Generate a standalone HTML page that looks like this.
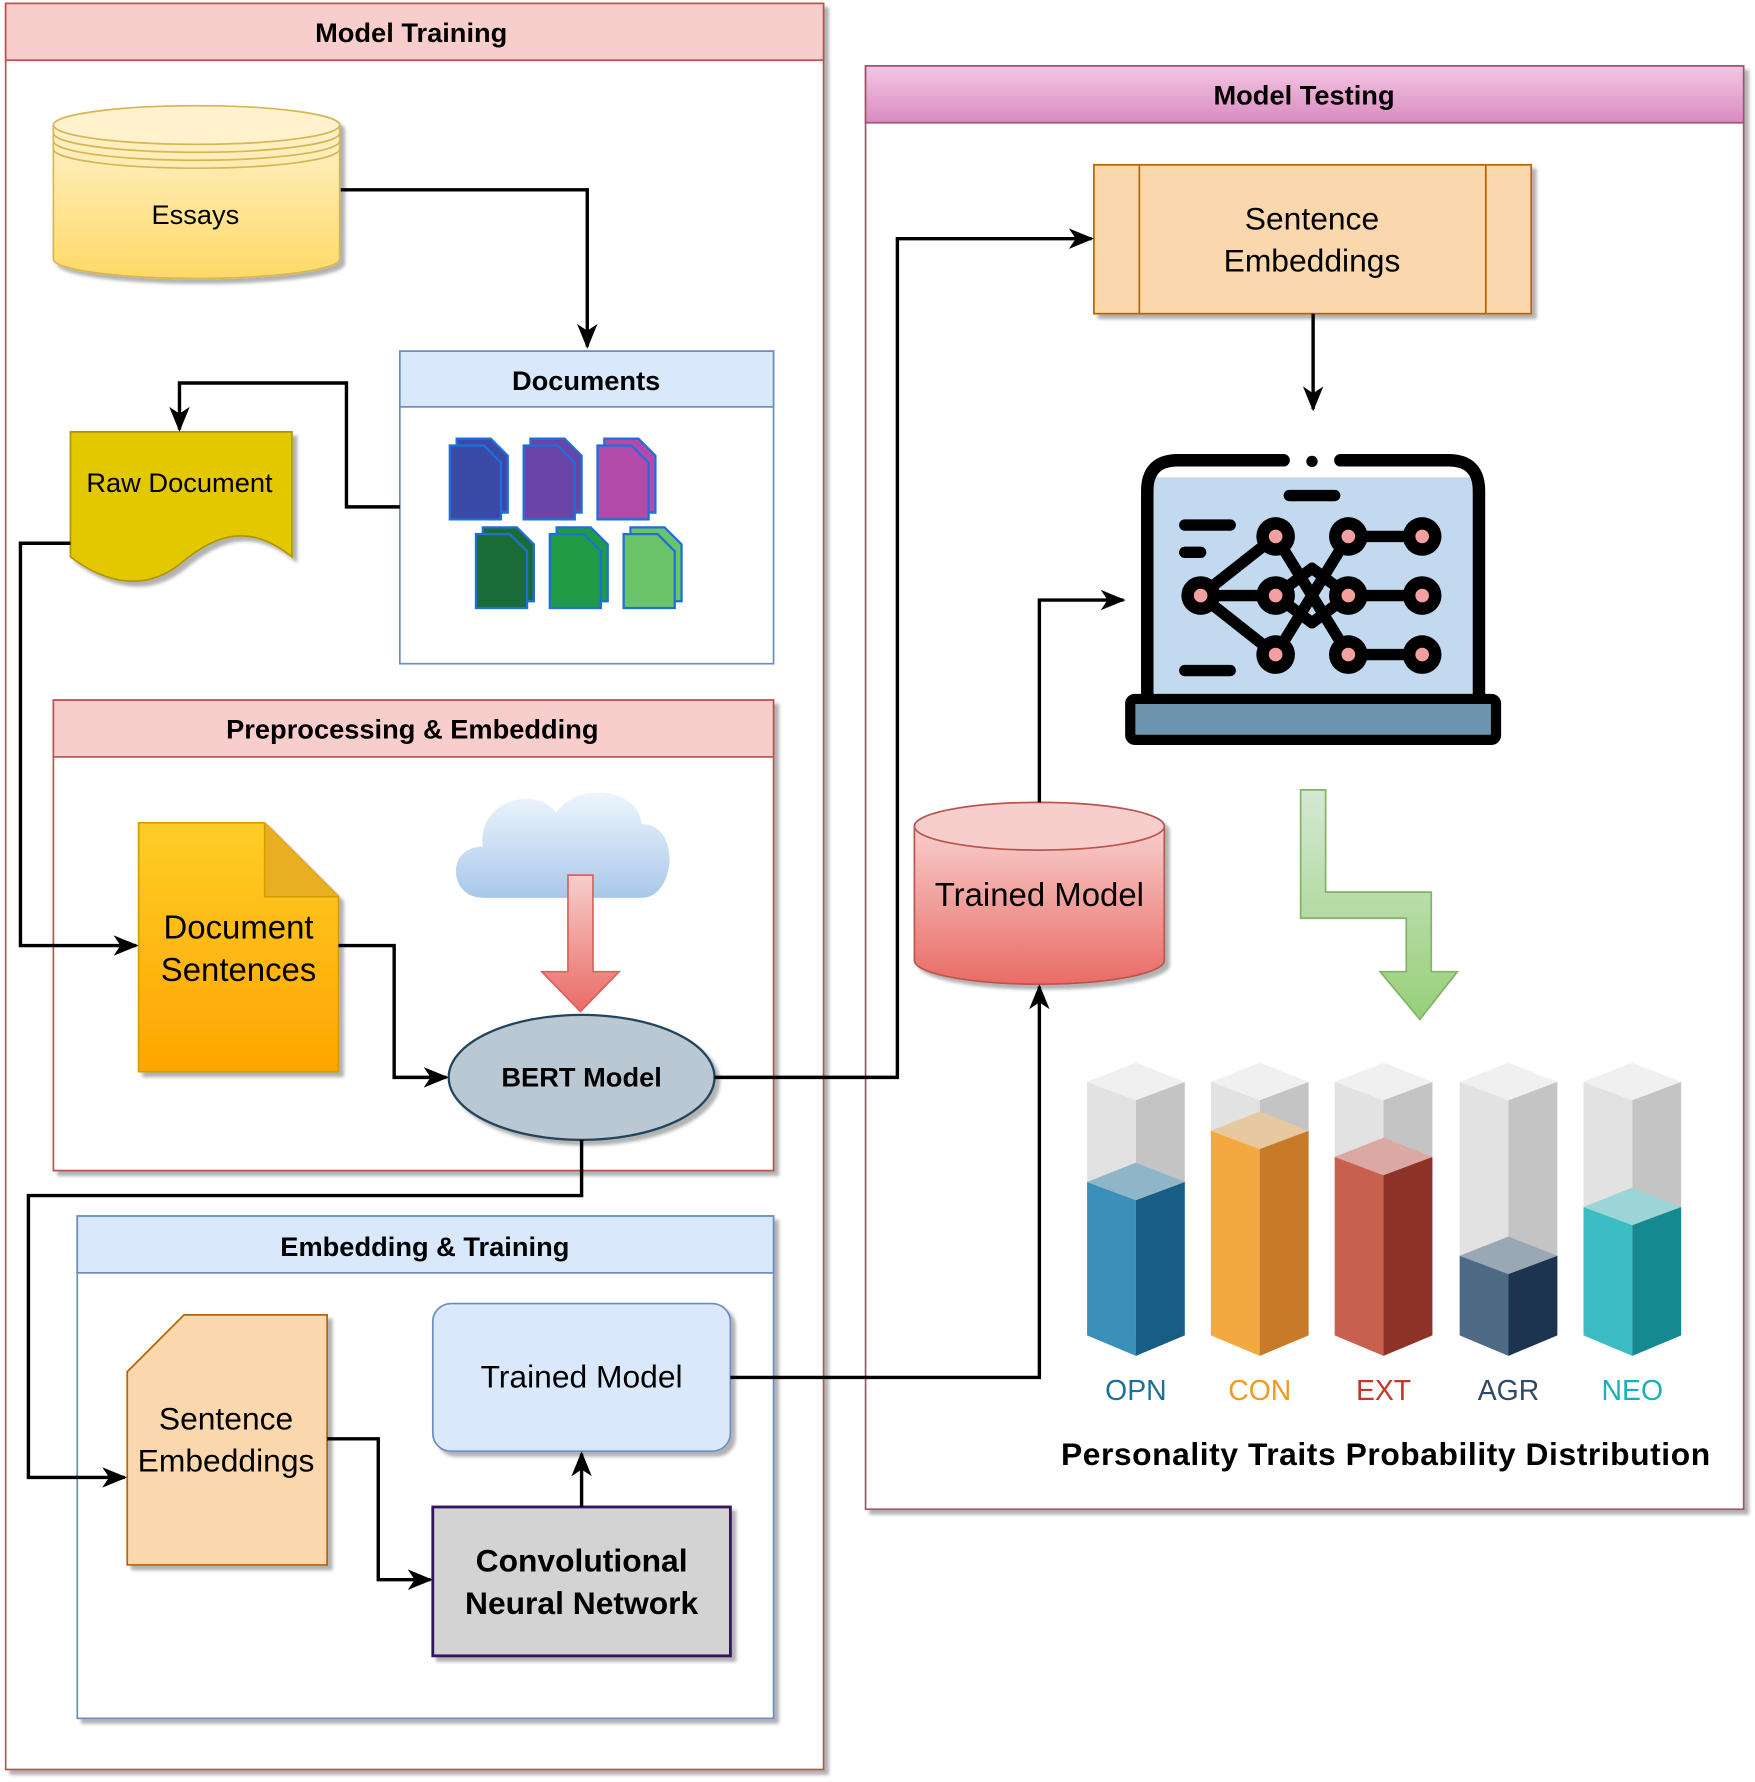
<!DOCTYPE html>
<html><head><meta charset="utf-8"><style>html,body{margin:0;padding:0;background:#fff}svg{display:block}</style></head>
<body>
<svg width="1755" height="1782" viewBox="0 0 1545 1568" preserveAspectRatio="none" xmlns="http://www.w3.org/2000/svg" font-family="Liberation Sans, sans-serif">
<defs>
<marker id="ar" markerWidth="22" markerHeight="18" refX="20" refY="9" orient="auto" markerUnits="userSpaceOnUse" viewBox="0 0 22 18"><path d="M0,0 L22,9 L0,18 L6,9 Z" fill="#000"/></marker>
<filter id="sh" x="-10%" y="-10%" width="130%" height="130%"><feDropShadow dx="4" dy="4" stdDeviation="1.5" flood-color="#000" flood-opacity="0.3"/></filter>
<linearGradient id="gy" x1="0" y1="0" x2="0" y2="1"><stop offset="0" stop-color="#fff2cc"/><stop offset="1" stop-color="#ffd966"/></linearGradient>
<linearGradient id="go" x1="0" y1="0" x2="0" y2="1"><stop offset="0" stop-color="#ffcd28"/><stop offset="1" stop-color="#ffa500"/></linearGradient>
<linearGradient id="gr" x1="0" y1="0" x2="0" y2="1"><stop offset="0" stop-color="#f8cecc"/><stop offset="1" stop-color="#ea6b66"/></linearGradient>
<linearGradient id="gm" x1="0" y1="0" x2="0" y2="1"><stop offset="0" stop-color="#f5c6e4"/><stop offset="1" stop-color="#d98bc0"/></linearGradient>
<linearGradient id="gc" x1="0" y1="0" x2="0" y2="1"><stop offset="0" stop-color="#eef5fd"/><stop offset="1" stop-color="#a9c8ea"/></linearGradient>
<linearGradient id="gra" x1="0" y1="0" x2="0" y2="1"><stop offset="0" stop-color="#f8cecc"/><stop offset="1" stop-color="#ea6b66"/></linearGradient>
<linearGradient id="gg" x1="0" y1="0" x2="0" y2="1"><stop offset="0" stop-color="#d5e8d4"/><stop offset="1" stop-color="#97d077"/></linearGradient>
</defs>

<rect x="5" y="3" width="720" height="1554" fill="#fff" stroke="#b85450" stroke-width="1.5" filter="url(#sh)"/>
<rect x="5" y="3" width="720" height="50" fill="#f8cecc" stroke="#b85450" stroke-width="1.5"/>
<text x="362" y="37" font-size="24" font-weight="bold" text-anchor="middle">Model Training</text>

<rect x="762" y="58" width="773" height="1270" fill="#fff" stroke="#a0566a" stroke-width="1.5" filter="url(#sh)"/>
<rect x="762" y="58" width="773" height="50" fill="url(#gm)" stroke="#a0566a" stroke-width="1.5"/>
<text x="1148" y="92" font-size="24" font-weight="bold" text-anchor="middle">Model Testing</text>

<g filter="url(#sh)">
<path d="M47,110 L47,228 A126,17 0 0 0 299,228 L299,110" fill="url(#gy)" stroke="#d6b656" stroke-width="1.5"/>
<ellipse cx="173" cy="110" rx="126" ry="17" fill="#fff2cc" stroke="#d6b656" stroke-width="1.5"/>
</g>
<path d="M47,117 A126,17 0 0 0 299,117 M47,124 A126,17 0 0 0 299,124 M47,131 A126,17 0 0 0 299,131" fill="none" stroke="#d6b656" stroke-width="1.5"/>
<text x="172" y="197" font-size="24" text-anchor="middle">Essays</text>

<rect x="352" y="309" width="329" height="275" fill="#fff" stroke="#6c8ebf" stroke-width="1.5"/>
<rect x="352" y="309" width="329" height="49" fill="#dae8fc" stroke="#6c8ebf" stroke-width="1.5"/>
<text x="516" y="343" font-size="24" font-weight="bold" text-anchor="middle">Documents</text>
<g stroke="#1e6fd9" stroke-width="2">
<g fill="#3a4aa6"><path d="M402,386 h30 l15,15 v50 h-45z"/><path d="M396,392 h30 l15,15 v50 h-45z"/></g>
<g fill="#6a45a8"><path d="M467,386 h30 l15,15 v50 h-45z"/><path d="M461,392 h30 l15,15 v50 h-45z"/></g>
<g fill="#b14aa8"><path d="M532,386 h30 l15,15 v50 h-45z"/><path d="M526,392 h30 l15,15 v50 h-45z"/></g>
<g fill="#1a6b35"><path d="M425,464 h30 l15,15 v50 h-45z"/><path d="M419,470 h30 l15,15 v50 h-45z"/></g>
<g fill="#1f9a45"><path d="M490,464 h30 l15,15 v50 h-45z"/><path d="M484,470 h30 l15,15 v50 h-45z"/></g>
<g fill="#6cc46a"><path d="M555,464 h30 l15,15 v50 h-45z"/><path d="M549,470 h30 l15,15 v50 h-45z"/></g>
</g>

<path d="M62,380 H257 V490 C220,460 190,470 160,495 C130,520 95,515 62,490 Z" fill="#e3c800" stroke="#b09500" stroke-width="1.5" filter="url(#sh)"/>
<text x="158" y="433" font-size="24" text-anchor="middle">Raw Document</text>

<rect x="47" y="616" width="634" height="414" fill="#fff" stroke="#b85450" stroke-width="1.5" filter="url(#sh)"/>
<rect x="47" y="616" width="634" height="50" fill="#f8cecc" stroke="#b85450" stroke-width="1.5"/>
<text x="363" y="650" font-size="24" font-weight="bold" text-anchor="middle">Preprocessing &amp; Embedding</text>

<path d="M122,724 H233 L298,789 V943 H122 Z" fill="url(#go)" stroke="#d79b00" stroke-width="1.5" filter="url(#sh)"/>
<path d="M233,724 V789 H298" fill="#e8b020" stroke="#d79b00" stroke-width="1.5"/>
<text x="210" y="826" font-size="29" text-anchor="middle">Document</text>
<text x="210" y="863" font-size="29" text-anchor="middle">Sentences</text>

<path d="M425,790 C395,790 392,745 425,745 C420,705 470,690 490,715 C505,690 560,690 565,725 C600,725 595,790 565,790 Z" fill="url(#gc)"/>
<path d="M500,770 H522 V855 H545 L511,890 L477,855 H500 Z" fill="url(#gra)" stroke="#e06060" stroke-width="1.5"/>

<ellipse cx="512" cy="948" rx="117" ry="55" fill="#bac8d3" stroke="#23445d" stroke-width="2" filter="url(#sh)"/>
<text x="512" y="956" font-size="24" font-weight="bold" text-anchor="middle">BERT Model</text>

<rect x="68" y="1070" width="613" height="442" fill="#fff" stroke="#6c8ebf" stroke-width="1.5" filter="url(#sh)"/>
<rect x="68" y="1070" width="613" height="50" fill="#dae8fc" stroke="#6c8ebf" stroke-width="1.5"/>
<text x="374" y="1105" font-size="24" font-weight="bold" text-anchor="middle">Embedding &amp; Training</text>

<path d="M162,1157 H288 V1377 H112 V1207 Z" fill="#fad7ac" stroke="#b46504" stroke-width="1.5" filter="url(#sh)"/>
<text x="199" y="1258" font-size="28" text-anchor="middle">Sentence</text>
<text x="199" y="1295" font-size="28" text-anchor="middle">Embeddings</text>

<rect x="381" y="1147" width="262" height="130" rx="16" fill="#dae8fc" stroke="#6c8ebf" stroke-width="1.5" filter="url(#sh)"/>
<text x="512" y="1221" font-size="28" text-anchor="middle">Trained Model</text>

<rect x="381" y="1326" width="262" height="131" fill="#d3d3d3" stroke="#36175d" stroke-width="2.5" filter="url(#sh)"/>
<text x="512" y="1383" font-size="28" font-weight="bold" text-anchor="middle">Convolutional</text>
<text x="512" y="1420" font-size="28" font-weight="bold" text-anchor="middle">Neural Network</text>

<rect x="963" y="145" width="385" height="131" fill="#fad7ac" stroke="#b46504" stroke-width="1.5" filter="url(#sh)"/>
<path d="M1003,145 V276 M1308,145 V276" stroke="#b46504" stroke-width="1.5"/>
<text x="1155" y="202" font-size="28" text-anchor="middle">Sentence</text>
<text x="1155" y="239" font-size="28" text-anchor="middle">Embeddings</text>

<g stroke="#000" stroke-linecap="round" stroke-linejoin="round">
<rect x="1010" y="420" width="292" height="194" fill="#c2d9ef" stroke="none"/>
<path d="M1010,614 V432 Q1010,405 1037,405 H1130 M1180,405 H1275 Q1302,405 1302,432 V614" fill="none" stroke-width="11"/>
<rect x="995" y="615" width="322" height="36" rx="4" fill="#6f94b0" stroke-width="9"/>
<circle cx="1155" cy="406" r="5" fill="#000" stroke="none"/>
<path d="M1135,436 H1175 M1043,462 H1083 M1043,486 H1057 M1043,590 H1083" stroke-width="10"/>
<path d="M1057,524 L1123,472 L1187,576 M1057,524 L1123,576 L1187,472 M1057,524 H1123 L1155,500 L1187,524 L1155,548 L1123,524 M1187,472 H1252 M1187,524 H1252 M1187,576 H1252" fill="none" stroke-width="10"/>
<g fill="#000" stroke="none">
<circle cx="1057" cy="524" r="17"/><circle cx="1123" cy="472" r="17"/><circle cx="1123" cy="524" r="17"/><circle cx="1123" cy="576" r="17"/>
<circle cx="1187" cy="472" r="17"/><circle cx="1187" cy="524" r="17"/><circle cx="1187" cy="576" r="17"/>
<circle cx="1252" cy="472" r="17"/><circle cx="1252" cy="524" r="17"/><circle cx="1252" cy="576" r="17"/>
</g>
<g fill="#f4a0a0" stroke="none">
<circle cx="1057" cy="524" r="6"/><circle cx="1123" cy="472" r="6"/><circle cx="1123" cy="524" r="6"/><circle cx="1123" cy="576" r="6"/>
<circle cx="1187" cy="472" r="6"/><circle cx="1187" cy="524" r="6"/><circle cx="1187" cy="576" r="6"/>
<circle cx="1252" cy="472" r="6"/><circle cx="1252" cy="524" r="6"/><circle cx="1252" cy="576" r="6"/>
</g>
</g>

<g filter="url(#sh)">
<path d="M805,727 V845 A110,21 0 0 0 1025,845 V727" fill="url(#gr)" stroke="#b85450" stroke-width="1.5"/>
<ellipse cx="915" cy="727" rx="110" ry="21" fill="#f8cecc" stroke="#b85450" stroke-width="1.5"/>
</g>
<text x="915" y="797" font-size="29" text-anchor="middle">Trained Model</text>

<path d="M1145,695 H1167 V785 H1260 V855 H1283 L1250,897 L1215,855 H1238 V808 H1145 Z" fill="url(#gg)" stroke="#82b366" stroke-width="1.5"/>

<g>
<path d="M957,952 L1000,968 V1193 L957,1175 Z" fill="#e2e2e2"/><path d="M1043,952 L1000,968 V1193 L1043,1175 Z" fill="#c4c4c4"/><path d="M957,952 L1000,935 L1043,952 L1000,968 Z" fill="#f0f0f0"/>
<path d="M957,1040 L1000,1056 V1193 L957,1175 Z" fill="#3a90b8"/><path d="M1043,1040 L1000,1056 V1193 L1043,1175 Z" fill="#165e86"/><path d="M957,1040 L1000,1023 L1043,1040 L1000,1056 Z" fill="#8fb6c8"/>
<path d="M1066,952 L1109,968 V1193 L1066,1175 Z" fill="#e2e2e2"/><path d="M1152,952 L1109,968 V1193 L1152,1175 Z" fill="#c4c4c4"/><path d="M1066,952 L1109,935 L1152,952 L1109,968 Z" fill="#f0f0f0"/>
<path d="M1066,995 L1109,1011 V1193 L1066,1175 Z" fill="#f4a840"/><path d="M1152,995 L1109,1011 V1193 L1152,1175 Z" fill="#c87a28"/><path d="M1066,995 L1109,978 L1152,995 L1109,1011 Z" fill="#e8c8a0"/>
<path d="M1175,952 L1218,968 V1193 L1175,1175 Z" fill="#e2e2e2"/><path d="M1261,952 L1218,968 V1193 L1261,1175 Z" fill="#c4c4c4"/><path d="M1175,952 L1218,935 L1261,952 L1218,968 Z" fill="#f0f0f0"/>
<path d="M1175,1018 L1218,1034 V1193 L1175,1175 Z" fill="#c86050"/><path d="M1261,1018 L1218,1034 V1193 L1261,1175 Z" fill="#8e3228"/><path d="M1175,1018 L1218,1001 L1261,1018 L1218,1034 Z" fill="#dca8a4"/>
<path d="M1285,952 L1328,968 V1193 L1285,1175 Z" fill="#e2e2e2"/><path d="M1371,952 L1328,968 V1193 L1371,1175 Z" fill="#c4c4c4"/><path d="M1285,952 L1328,935 L1371,952 L1328,968 Z" fill="#f0f0f0"/>
<path d="M1285,1105 L1328,1121 V1193 L1285,1175 Z" fill="#4e6a84"/><path d="M1371,1105 L1328,1121 V1193 L1371,1175 Z" fill="#1c3450"/><path d="M1285,1105 L1328,1088 L1371,1105 L1328,1121 Z" fill="#9aa8b4"/>
<path d="M1394,952 L1437,968 V1193 L1394,1175 Z" fill="#e2e2e2"/><path d="M1480,952 L1437,968 V1193 L1480,1175 Z" fill="#c4c4c4"/><path d="M1394,952 L1437,935 L1480,952 L1437,968 Z" fill="#f0f0f0"/>
<path d="M1394,1062 L1437,1078 V1193 L1394,1175 Z" fill="#3cbcc4"/><path d="M1480,1062 L1437,1078 V1193 L1480,1175 Z" fill="#148a90"/><path d="M1394,1062 L1437,1045 L1480,1062 L1437,1078 Z" fill="#9cd4d8"/>
</g>
<g font-size="25" text-anchor="middle">
<text x="1000" y="1232" fill="#1f6e9c">OPN</text>
<text x="1109" y="1232" fill="#f09a20">CON</text>
<text x="1218" y="1232" fill="#c0392b">EXT</text>
<text x="1328" y="1232" fill="#2e4a66">AGR</text>
<text x="1437" y="1232" fill="#1ab0b8">NEO</text>
</g>
<text x="1220" y="1289" font-size="28" font-weight="bold" text-anchor="middle" letter-spacing="0.5">Personality  Traits Probability Distribution</text>

<g fill="none" stroke="#000" stroke-width="3" marker-end="url(#ar)">
<path d="M300,167 H517 V305"/>
<path d="M352,446 H305 V337 H158 V378"/>
<path d="M62,478 H18 V832 H120"/>
<path d="M298,832 H347 V948 H393"/>
<path d="M629,948 H790 V210 H961"/>
<path d="M512,1003 V1052 H25 V1300 H110"/>
<path d="M288,1266 H333 V1390 H379"/>
<path d="M512,1326 V1279"/>
<path d="M643,1212 H915 V868"/>
<path d="M915,706 V528 H989"/>
<path d="M1156,276 V360"/>
</g>
</svg>
</body></html>
